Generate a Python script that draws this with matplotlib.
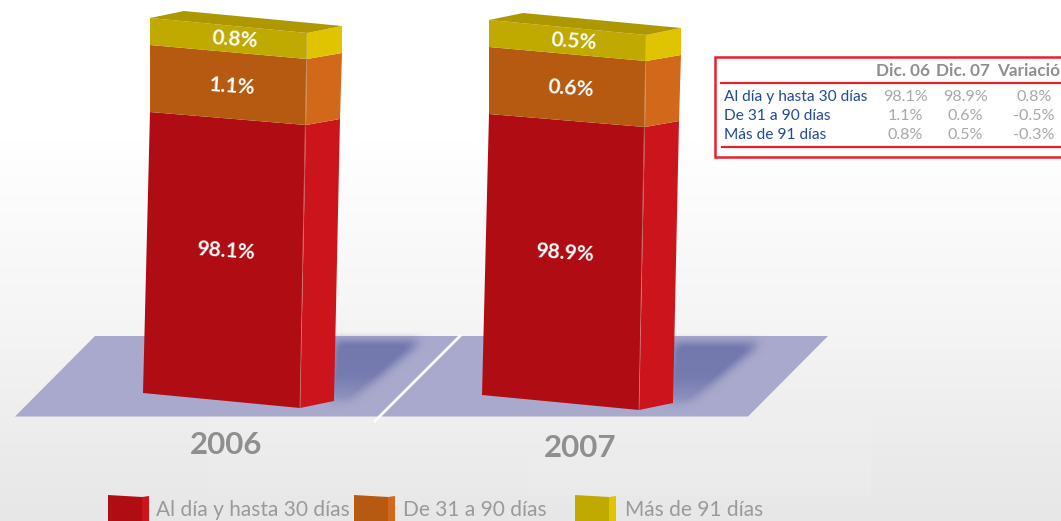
import numpy as np
import matplotlib
matplotlib.use('Agg')
import matplotlib.pyplot as plt
from matplotlib.path import Path
from matplotlib.patches import Polygon

# datos
years = ['2006', '2007']
categories = ['Al día y hasta 30 días', 'De 31 a 90 días', 'Más de 91 días']
dic_06 = [98.1, 1.1, 0.8]
dic_07 = [98.9, 0.6, 0.5]
variacion = [0.8, -0.5, -0.3]
headers = ['Dic. 06', 'Dic. 07', 'Variación']

# colores (frente, lado)
col_front = ['#b00c13', '#b55a10', '#c0aa00']
col_side = ['#cb141c', '#d2691a', '#e0c400']
col_top = '#ad9800'
col_floor = '#a8a9cc'
col_shadow = '#7076ac'
col_red = '#e8202c'
col_blue = '#1f4b9b'
col_grey = '#a8a8a8'
col_dark = '#8f8f90'

W, H = 1061, 521
plt.rcParams['font.family'] = ['Lato', 'DejaVu Sans']

fig = plt.figure(figsize=(W / 100, H / 100), dpi=100)
ax = fig.add_axes([0, 0, 1, 1])
ax.set_xlim(0, W)
ax.set_ylim(H, 0)
ax.axis('off')

# fondo degradado
stops_y = [0, 140, 320, 470, 521]
stops_v = [255, 255, 245, 234, 231]
grad = np.interp(np.arange(H), stops_y, stops_v) / 255
ax.imshow(np.repeat(grad[:, None], 3, axis=1)[:, None, :], extent=[0, W, H, 0],
          aspect='auto', zorder=0)
ax.set_xlim(0, W)
ax.set_ylim(H, 0)

# paneles muy tenues
ax.add_patch(plt.Rectangle((207, 280), 663, 215, fc='white', ec='white', alpha=0.06, lw=1, zorder=1))
ax.add_patch(plt.Rectangle((527, 415), 343, 80, fc='white', ec='white', alpha=0.05, lw=1, zorder=1))

# piso
ax.add_patch(Polygon([(15, 416.5), (95, 336), (828, 336), (748, 416.5)], fc=col_floor, ec='none', zorder=2))
ax.plot([375, 460], [421, 336], color='white', lw=2, zorder=3)


def shadow(dx, dy):
    # sombra difusa detras de cada barra
    pts = [(335 + dx, 340 + dy), (420 + dx, 341 + dy), (350 + dx, 400 + dy), (330 + dx, 402 + dy)]
    x0, x1, y0, y1 = 315 + dx, 440 + dx, 325 + dy, 418 + dy
    xx, yy = np.meshgrid(np.arange(x0, x1), np.arange(y0, y1))
    m = Path(pts).contains_points(np.c_[xx.ravel(), yy.ravel()]).reshape(xx.shape).astype(float)
    k = np.ones(11) / 11
    for i in range(2):
        m = np.apply_along_axis(lambda r: np.convolve(r, k, mode='same'), 0, m)
        m = np.apply_along_axis(lambda r: np.convolve(r, k, mode='same'), 1, m)
    fade = np.interp(yy, [y0, 375 + dy, y1], [1, 0.9, 0.05])
    rgba = np.zeros(m.shape + (4,))
    rgba[..., :3] = matplotlib.colors.to_rgb(col_shadow)
    rgba[..., 3] = np.clip(m * 1.2, 0, 1) * fade
    ax.imshow(rgba, extent=[x0, x1, y1, y0], aspect='auto', zorder=3)


def bar3d(dx, dy, values):
    # limites y del frente, izquierda / derecha / lado, de abajo hacia arriba
    left = [(143, 393), (150, 112), (150, 45), (150, 18)]
    right = [(300, 408), (306, 125), (307, 59), (307, 33)]
    side = [(334, 401), (340, 119), (342, 53), (342, 26)]
    off = np.array([dx, dy])
    for i in range(3):
        ax.add_patch(Polygon(np.array([left[i], right[i], right[i + 1], left[i + 1]]) + off,
                             fc=col_front[i], ec='none', zorder=5))
        ax.add_patch(Polygon(np.array([right[i], side[i], side[i + 1], right[i + 1]]) + off,
                             fc=col_side[i], ec='none', zorder=5))
    ax.add_patch(Polygon(np.array([left[3], (184, 11), side[3], right[3]]) + off,
                         fc=col_top, ec='none', zorder=5))
    ax.plot(np.array([right[0][0], right[3][0]]) + dx, np.array([right[0][1], right[3][1]]) + dy,
            color='#e6b8a0', lw=0.5, alpha=0.6, zorder=6)
    # etiquetas
    pos = [(226, 251), (232, 87), (235, 40)]
    for v, (x, y) in zip(values, pos):
        ax.text(x + dx, y + dy, '%.1f%%' % v, color='white', fontsize=15, fontweight='bold',
                ha='center', va='center', rotation=-4, zorder=7)


shadow(0, 0)
shadow(339, 2)
bar3d(0, 0, dic_06)
bar3d(339, 2, dic_07)

ax.text(226, 445, years[0], color=col_dark, fontsize=22.5, fontweight='bold', ha='center', va='center', zorder=7)
ax.text(580, 448, years[1], color=col_dark, fontsize=22.5, fontweight='bold', ha='center', va='center', zorder=7)

# leyenda
swatch_x = [108, 354, 575]
text_x = [156, 403, 625]
for i, cat in enumerate(categories):
    x = swatch_x[i]
    ax.add_patch(Polygon([(x, 495), (x + 34, 497), (x + 34, 521), (x, 521)], fc=col_front[i], ec='none', zorder=5))
    ax.add_patch(Polygon([(x + 34, 497), (x + 41, 496), (x + 41, 521), (x + 34, 521)], fc=col_side[i], ec='none', zorder=5))
    ax.text(text_x[i], 510, cat, color='#9a9a9a', fontsize=15, ha='left', va='center', zorder=7)

# tabla
ax.add_patch(plt.Rectangle((715, 57), 400, 100, fc='white', ec=col_red, lw=1.8, zorder=5))
ax.plot([721, W], [83, 83], color=col_red, lw=1.6, zorder=6)
ax.plot([722, W], [147, 147], color=col_red, lw=1.6, zorder=6)
ax.text(903, 71.5, headers[0], color=col_dark, fontsize=12.3, fontweight='bold', ha='center', va='center', zorder=7)
ax.text(963, 71.5, headers[1], color=col_dark, fontsize=12.3, fontweight='bold', ha='center', va='center', zorder=7)
ax.text(997, 71.5, headers[2], color=col_dark, fontsize=12.3, fontweight='bold', ha='left', va='center', zorder=7)
row_y = [97, 116, 135]
for i, cat in enumerate(categories):
    ax.text(724, row_y[i], cat, color=col_blue, fontsize=11.2, ha='left', va='center', zorder=7)
    ax.text(905, row_y[i], '%.1f%%' % dic_06[i], color=col_grey, fontsize=11.6, ha='center', va='center', zorder=7)
    ax.text(965, row_y[i], '%.1f%%' % dic_07[i], color=col_grey, fontsize=11.6, ha='center', va='center', zorder=7)
    ax.text(1034, row_y[i], '%.1f%%' % variacion[i], color=col_grey, fontsize=11.6, ha='center', va='center', zorder=7)

fig.savefig('out.png', dpi=100)
